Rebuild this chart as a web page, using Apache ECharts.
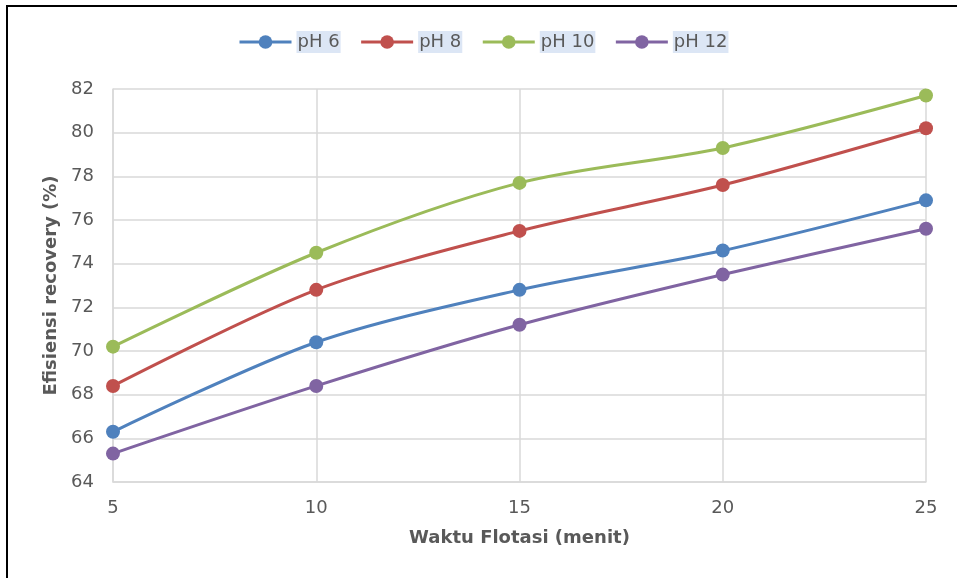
<!DOCTYPE html>
<html>
<head>
<meta charset="utf-8">
<script src="https://cdn.jsdelivr.net/npm/echarts@6/dist/echarts.min.js"></script>
<style>
  html, body { margin: 0; padding: 0; background: #fff; }
  #main { width: 957px; height: 578px; }
</style>
</head>
<body>
<div id="main"></div>
<script>
// waktu flotasi (menit)
var waktu = [5, 10, 15, 20, 25];
// efisiensi recovery (%) per pH
var ph6 = [66.3, 70.4, 72.8, 74.6, 76.9];
var ph8 = [68.4, 72.8, 75.5, 77.6, 80.2];
var ph10 = [70.2, 74.5, 77.7, 79.3, 81.7];
var ph12 = [65.3, 68.4, 71.2, 73.5, 75.6];
var seriesNames = ["pH 6", "pH 8", "pH 10", "pH 12"];
var seriesColors = ["#4f81bd", "#c0504d", "#9bbb59", "#8064a2"];

function pairs(ys) {
  return waktu.map(function (x, i) { return [x, ys[i]]; });
}

var myChart = echarts.init(document.getElementById("main"));
var font = "DejaVu Sans, Verdana, sans-serif";

var option = {
  animation: false,
  color: seriesColors,
  graphic: [{
    type: "rect",
    shape: { x: 7, y: 6, width: 980, height: 600 },
    style: { fill: "none", stroke: "#000", lineWidth: 2 },
    silent: true
  }],
  legend: {
    left: 238,
    top: 31,
    padding: 0,
    itemWidth: 52,
    itemHeight: 17,
    itemGap: 19,
    lineStyle: { width: 3 },
    textStyle: {
      fontFamily: font,
      fontSize: 18,
      color: "#595959",
      backgroundColor: "#dce6f5",
      padding: [2, 1, 2, 1]
    },
    data: seriesNames
  },
  grid: { left: 113, right: 31, top: 89, bottom: 96 },
  xAxis: {
    type: "value",
    min: 5,
    max: 25,
    interval: 5,
    name: "Waktu Flotasi (menit)",
    nameLocation: "middle",
    nameGap: 47,
    nameTextStyle: { fontFamily: font, fontSize: 18, fontWeight: "bold", color: "#595959" },
    axisLine: { show: true, lineStyle: { color: "#d9d9d9", width: 1.5 } },
    axisTick: { show: false },
    axisLabel: { margin: 17, fontFamily: font, fontSize: 18, color: "#595959" },
    splitLine: { show: true, lineStyle: { color: "#d9d9d9", width: 1.5 } }
  },
  yAxis: {
    type: "value",
    min: 64,
    max: 82,
    interval: 2,
    name: "Efisiensi recovery (%)",
    nameLocation: "middle",
    nameGap: 51,
    nameTextStyle: { fontFamily: font, fontSize: 18, fontWeight: "bold", color: "#595959" },
    axisLine: { show: true, lineStyle: { color: "#d9d9d9", width: 1.5 } },
    axisTick: { show: false },
    axisLabel: { margin: 19, fontFamily: font, fontSize: 18, color: "#595959" },
    splitLine: { show: true, lineStyle: { color: "#d9d9d9", width: 1.5 } }
  },
  series: [ph6, ph8, ph10, ph12].map(function (ys, i) {
    return {
      name: seriesNames[i],
      type: "line",
      smooth: 0.3,
      symbol: "circle",
      symbolSize: 14,
      lineStyle: { width: 3 },
      data: pairs(ys)
    };
  })
};

myChart.setOption(option);
</script>
</body>
</html>
